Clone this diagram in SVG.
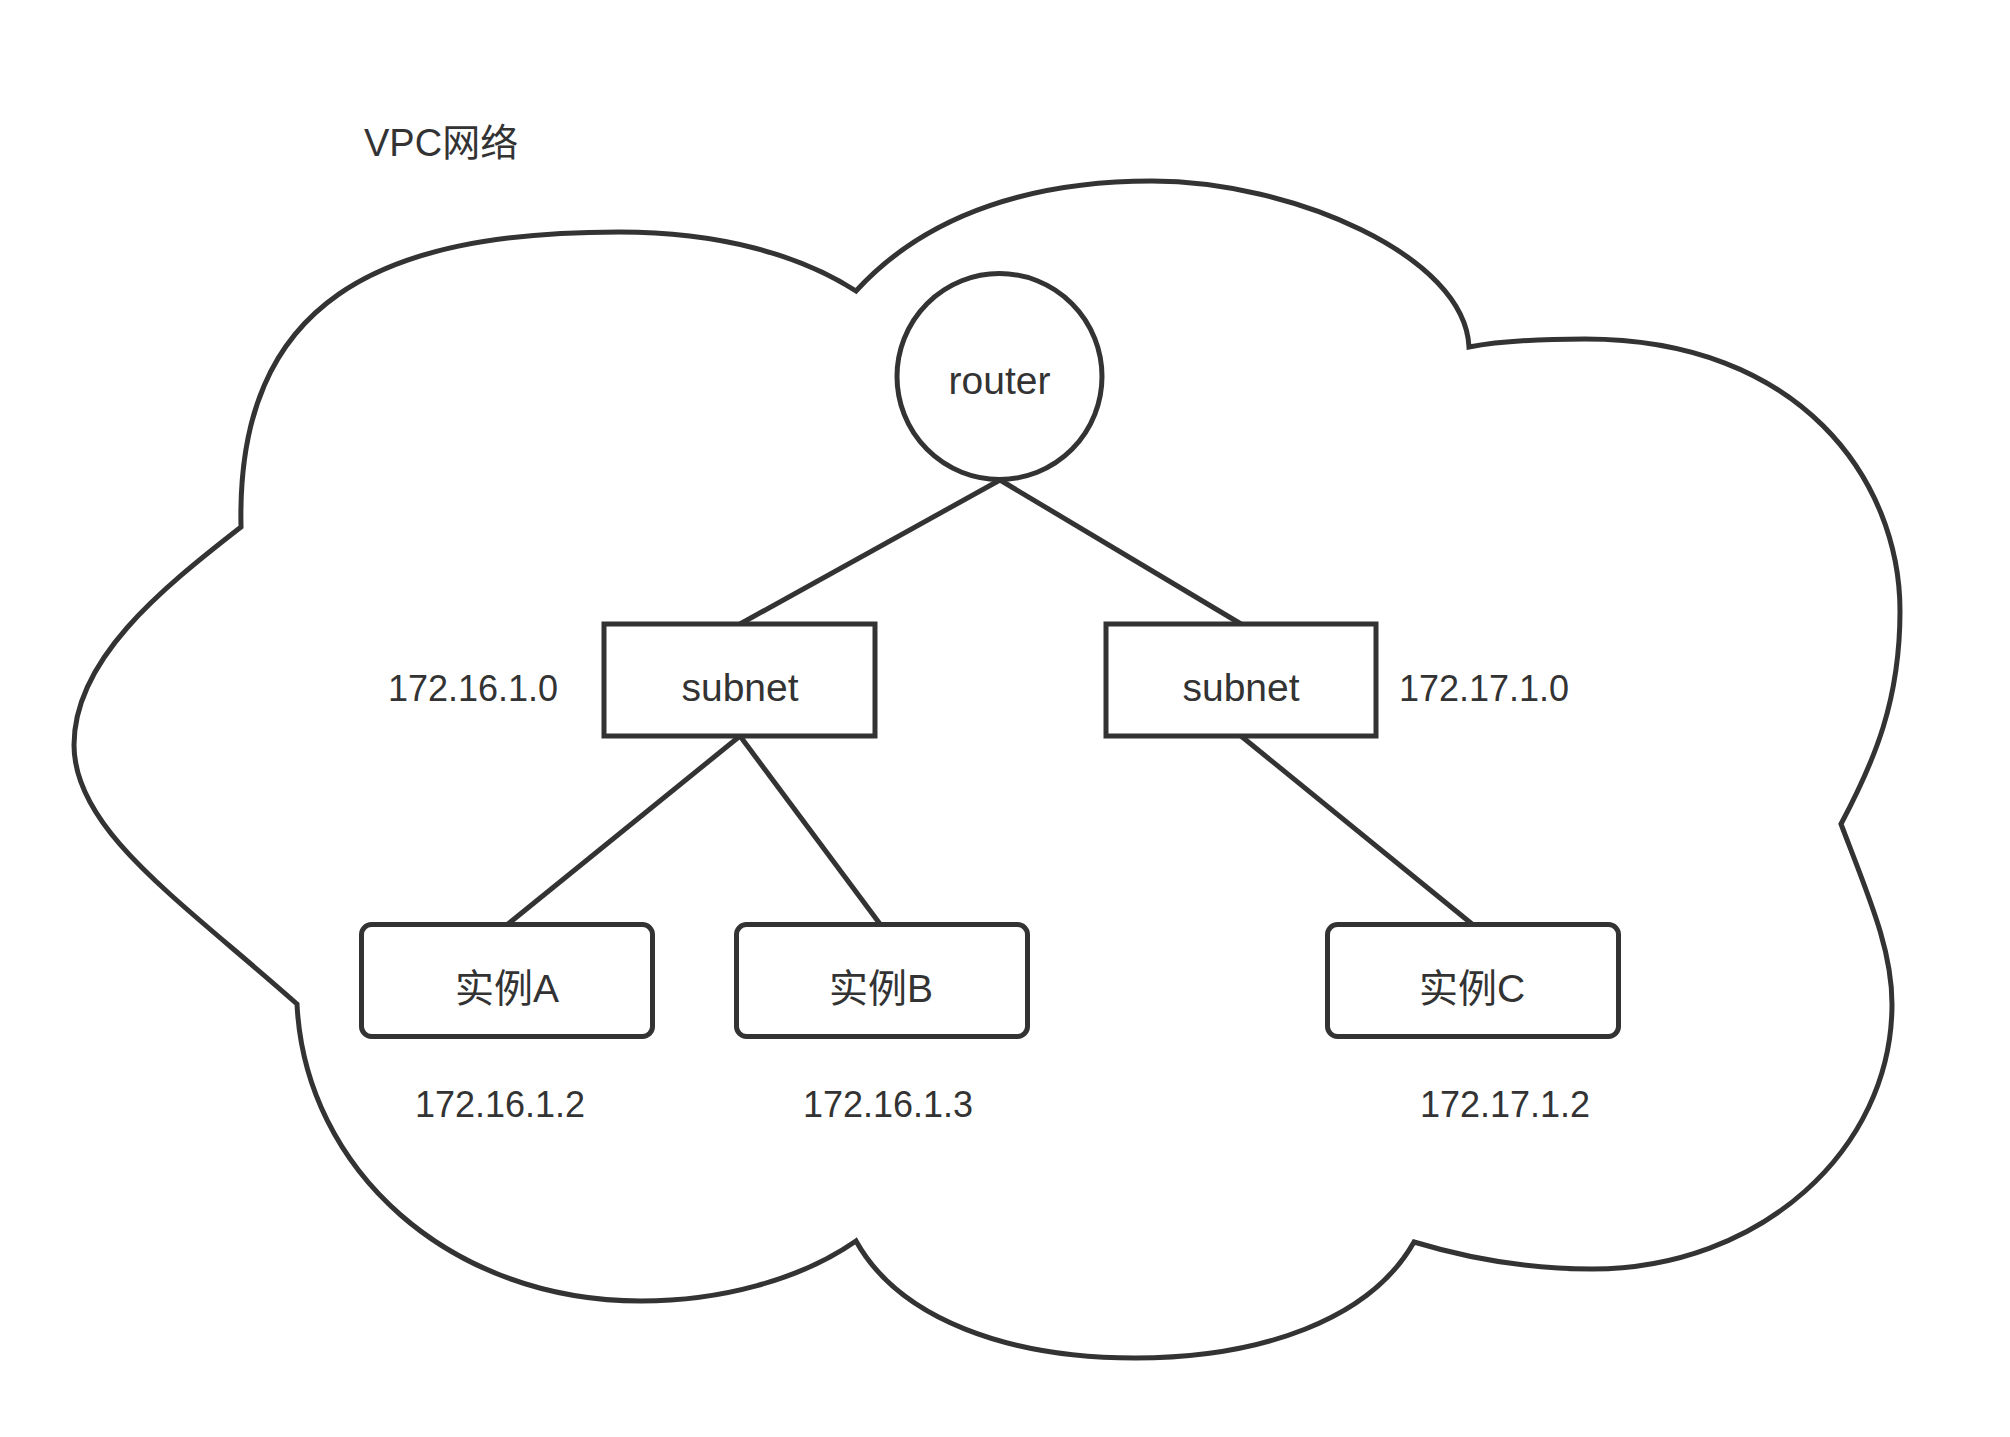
<svg xmlns="http://www.w3.org/2000/svg" width="2010" height="1437" viewBox="0 0 2010 1437">
<style>
.ln{fill:none;stroke:#333;stroke-width:5;stroke-linejoin:miter}
.box{fill:#fff;stroke:#333;stroke-width:5}
.t{font-family:"Liberation Sans","Noto Sans CJK SC",sans-serif;font-size:36px;fill:#333;text-anchor:middle}
.w{font-size:39px}
.tl{font-family:"Liberation Sans","Noto Sans CJK SC",sans-serif;font-size:38px;fill:#333}
</style>
<rect width="2010" height="1437" fill="#fff"/>
<text class="tl" x="364" y="156">VPC网络</text>
<g id="cloud">
<path class="ln" fill="#fff" d="M241,527 C236,300 380,232 619,232 C720,232 800,255 856,291 C930,210 1040,181 1152,181 C1290,181 1465,255 1469,347 C1500,341 1540,339 1585,339 C1800,339 1900,480 1900,611 C1900,700 1875,760 1841,824 C1870,900 1892,950 1892,1004 C1892,1150 1760,1269 1592,1269 C1540,1269 1480,1262 1414,1242 C1370,1320 1260,1358 1135,1358 C1010,1358 900,1320 856,1241 C800,1280 720,1301 641,1301 C450,1301 305,1170 297,1004 C180,900 74,830 74,745 C74,660 160,590 241,527 Z"/>
</g>
<g id="connectors">
<line class="ln" x1="1000" y1="480" x2="740" y2="624"/>
<line class="ln" x1="1000" y1="480" x2="1241" y2="624"/>
<line class="ln" x1="740" y1="736" x2="508" y2="924"/>
<line class="ln" x1="740" y1="736" x2="880" y2="924"/>
<line class="ln" x1="1241" y1="736" x2="1472" y2="924"/>
</g>
<g id="router">
<ellipse class="box" cx="999.5" cy="376.5" rx="102.5" ry="103"/>
<text class="t w" x="999.5" y="394">router</text>
</g>
<g id="subnet1">
<rect class="box" x="604" y="624" width="271" height="112"/>
<text class="t w" x="740" y="701">subnet</text>
</g>
<text class="t" x="473" y="701">172.16.1.0</text>
<g id="subnet2">
<rect class="box" x="1106" y="624" width="270" height="112"/>
<text class="t w" x="1241" y="701">subnet</text>
</g>
<text class="t" x="1484" y="701">172.17.1.0</text>
<g id="instanceA">
<rect class="box" x="361.5" y="924.5" width="291" height="112" rx="10"/>
<text class="t w" x="507" y="1002">实例A</text>
</g>
<text class="t" x="500" y="1117">172.16.1.2</text>
<g id="instanceB">
<rect class="box" x="736.5" y="924.5" width="291" height="112" rx="10"/>
<text class="t w" x="881" y="1002">实例B</text>
</g>
<text class="t" x="888" y="1117">172.16.1.3</text>
<g id="instanceC">
<rect class="box" x="1327.5" y="924.5" width="291" height="112" rx="10"/>
<text class="t w" x="1472" y="1002">实例C</text>
</g>
<text class="t" x="1505" y="1117">172.17.1.2</text>
</svg>
